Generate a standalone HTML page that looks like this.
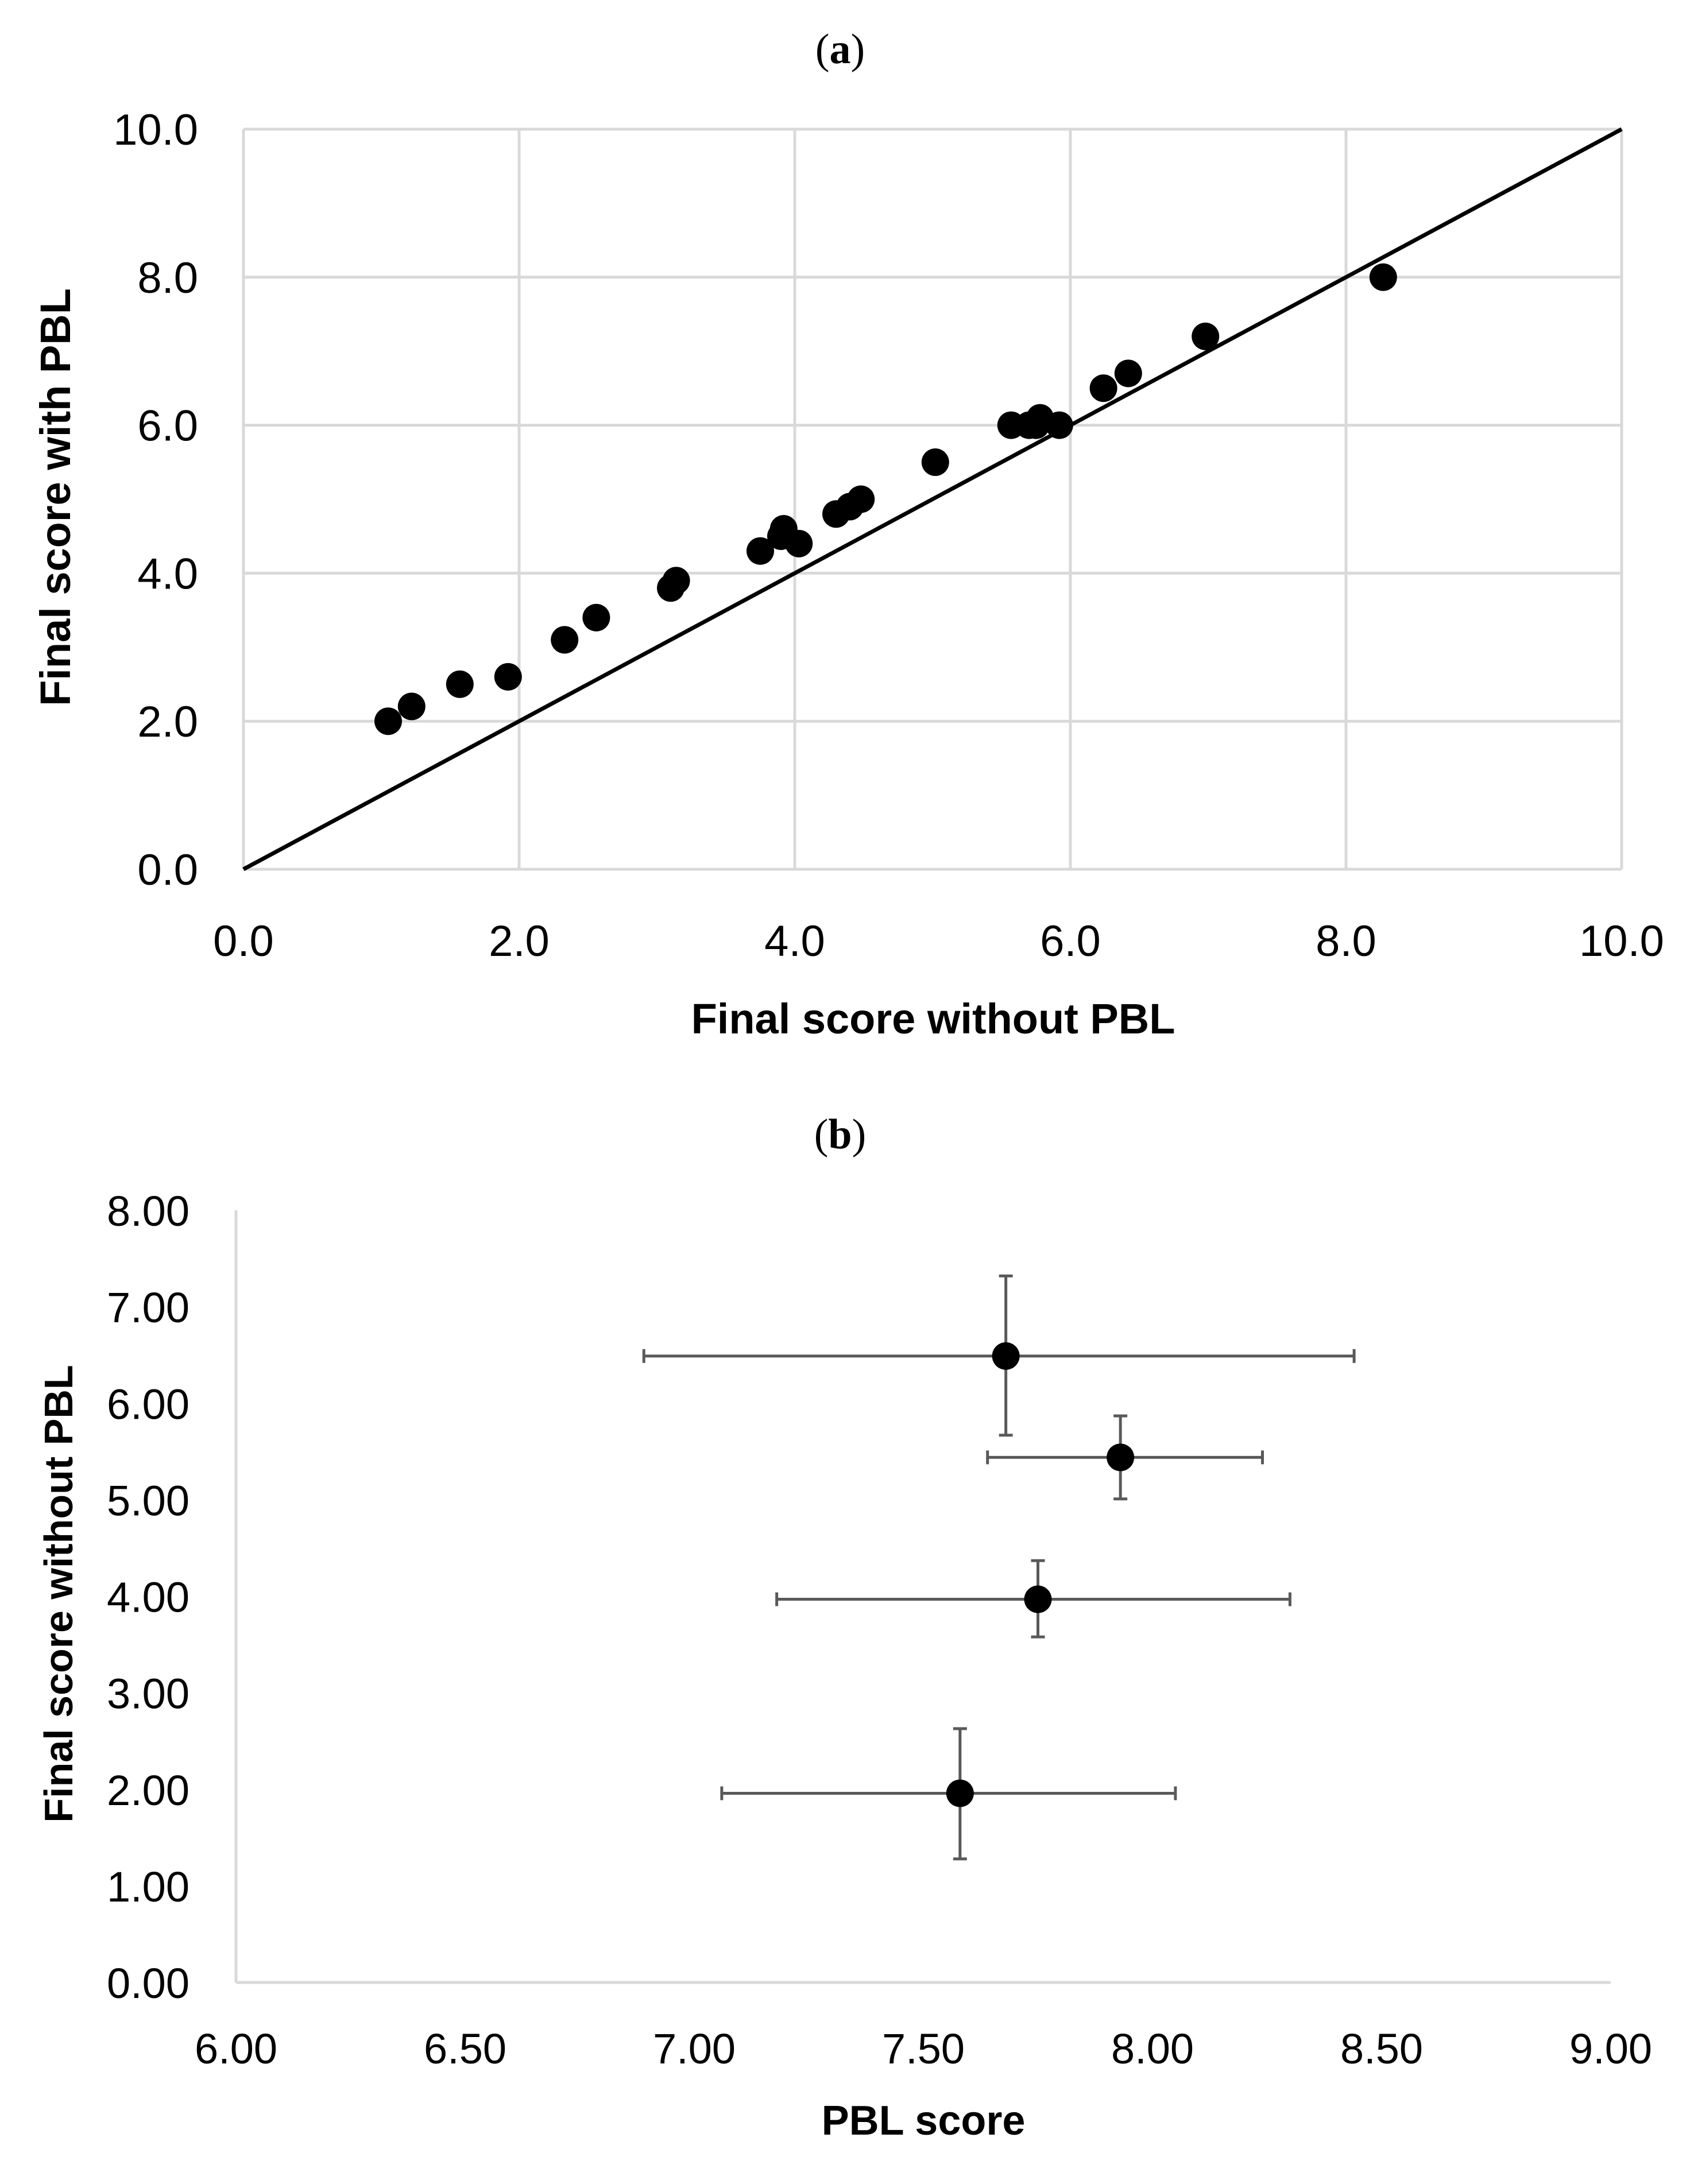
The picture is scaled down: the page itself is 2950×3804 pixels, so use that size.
<!DOCTYPE html>
<html><head><meta charset="utf-8"><style>
html,body{margin:0;padding:0;background:#fff;}
svg{display:block;}
text{font-family:"Liberation Sans",sans-serif;fill:#000;}
</style></head><body>
<svg id="fig" width="2950" height="3804" viewBox="0 0 2950 3804" xmlns="http://www.w3.org/2000/svg">
<g id="ga"></g>
<g id="gb"></g>
</svg>
<script>
// Chart (a) data
const aX = [1.05,1.22,1.57,1.92,2.33,2.56,3.10,3.14,3.75,3.92,3.90,4.03,4.30,4.40,4.48,5.02,5.57,5.70,5.78,5.75,5.92,6.24,6.42,6.98,8.27];
const aY = [2.0,2.2,2.5,2.6,3.1,3.4,3.8,3.9,4.3,4.6,4.5,4.4,4.8,4.9,5.0,5.5,6.0,6.0,6.1,6.0,6.0,6.5,6.7,7.2,8.0];
const aTicks = [0,2,4,6,8,10];
// Chart (b) data
const bX = [7.68,7.93,7.75,7.58];
const bY = [6.49,5.44,3.97,1.96];
const bXlo = [6.89,7.64,7.18,7.06];
const bXhi = [8.44,8.24,8.30,8.05];
const bYlo = [5.67,5.01,3.58,1.28];
const bYhi = [7.32,5.87,4.37,2.63];
const bXTicks = [6,6.5,7,7.5,8,8.5,9];
const bYTicks = [0,1,2,3,4,5,6,7,8];

const NS="http://www.w3.org/2000/svg";
function mk(parent,tag,attrs,txt){const e=document.createElementNS(NS,tag);for(const k in attrs)e.setAttribute(k,attrs[k]);if(txt!==undefined)e.textContent=txt;parent.appendChild(e);return e;}

// ---- Chart A ----
const ga=document.getElementById('ga');
const aL=424,aR=2824,aT=225,aB=1514;
const ax=v=>aL+(v-0)/10*(aR-aL);
const ay=v=>aB-(v-0)/10*(aB-aT);
let t=mk(ga,'text',{x:1463,y:110,'text-anchor':'middle','font-size':74,style:'font-family:"Liberation Serif",serif'});


const tb=document.createElementNS(NS,'tspan');tb.textContent='(';t.appendChild(tb);
const tb2=document.createElementNS(NS,'tspan');tb2.setAttribute('font-weight','bold');tb2.textContent='a';t.appendChild(tb2);
const tb3=document.createElementNS(NS,'tspan');tb3.textContent=')';t.appendChild(tb3);
aTicks.forEach(v=>{
  let g=mk(ga,'line',{x1:ax(v),x2:ax(v),y1:aT,y2:aB,stroke:'#d9d9d9','stroke-width':5});
  
  
  let h=mk(ga,'line',{x1:aL,x2:aR,y1:ay(v),y2:ay(v),stroke:'#d9d9d9','stroke-width':5});
  
  
  let xl=mk(ga,'text',{x:ax(v),y:1665,'text-anchor':'middle','font-size':76},v.toFixed(1));
  
  
  let yl=mk(ga,'text',{x:345,y:ay(v)+27,'text-anchor':'end','font-size':76},v.toFixed(1));
  
  
});
let diag=mk(ga,'line',{x1:ax(0),y1:ay(0),x2:ax(10),y2:ay(10),stroke:'#000','stroke-width':7});


aX.forEach((v,i)=>{
  let c=mk(ga,'circle',{cx:ax(v),cy:ay(aY[i]),r:24,fill:'#000'});
  
  
});
let axt=mk(ga,'text',{x:1625,y:1800,'text-anchor':'middle','font-size':74,'font-weight':'bold'},'Final score without PBL');


let ayt=mk(ga,'text',{x:0,y:0,'text-anchor':'middle','font-size':74,'font-weight':'bold',transform:'translate(122,866) rotate(-90)'},'Final score with PBL');



// ---- Chart B ----
const gb=document.getElementById('gb');
const bL=411,bR=2805,bT=2108,bB=3453;
const bx=v=>bL+(v-6)/3*(bR-bL);
const by=v=>bB-v/8*(bB-bT);
let tt=mk(gb,'text',{x:1463,y:2000,'text-anchor':'middle','font-size':74,style:'font-family:"Liberation Serif",serif'});


const s1=document.createElementNS(NS,'tspan');s1.textContent='(';tt.appendChild(s1);
const s2=document.createElementNS(NS,'tspan');s2.setAttribute('font-weight','bold');s2.textContent='b';tt.appendChild(s2);
const s3=document.createElementNS(NS,'tspan');s3.textContent=')';tt.appendChild(s3);
let yaxis=mk(gb,'line',{x1:bL,x2:bL,y1:bT,y2:bB,stroke:'#d9d9d9','stroke-width':5});


let xaxis=mk(gb,'line',{x1:bL,x2:bR,y1:bB,y2:bB,stroke:'#d9d9d9','stroke-width':5});


bXTicks.forEach(v=>{
  let l=mk(gb,'text',{x:bx(v),y:3594,'text-anchor':'middle','font-size':74},v.toFixed(2));
  
  
});
bYTicks.forEach(v=>{
  let l=mk(gb,'text',{x:330,y:by(v)+27,'text-anchor':'end','font-size':74},v.toFixed(2));
  
  
});
const ec='#595959',cap=12;
bX.forEach((v,i)=>{
  const cx=bx(v),cy=by(bY[i]);
  let hx=mk(gb,'line',{x1:bx(bXlo[i]),x2:bx(bXhi[i]),y1:cy,y2:cy,stroke:ec,'stroke-width':5});
  
  
  [bXlo[i],bXhi[i]].forEach(e=>{
    let c=mk(gb,'line',{x1:bx(e),x2:bx(e),y1:cy-cap,y2:cy+cap,stroke:ec,'stroke-width':5});
    
    
  });
  let vy=mk(gb,'line',{x1:cx,x2:cx,y1:by(bYlo[i]),y2:by(bYhi[i]),stroke:ec,'stroke-width':5});
  
  
  [bYlo[i],bYhi[i]].forEach(e=>{
    let c=mk(gb,'line',{x1:cx-cap,x2:cx+cap,y1:by(e),y2:by(e),stroke:ec,'stroke-width':5});
    
    
  });
  let p=mk(gb,'circle',{cx:cx,cy:cy,r:24,fill:'#000'});
  
  
});
let bxt=mk(gb,'text',{x:1608,y:3718,'text-anchor':'middle','font-size':72,'font-weight':'bold'},'PBL score');


let byt=mk(gb,'text',{x:0,y:0,'text-anchor':'middle','font-size':70,'font-weight':'bold',transform:'translate(126,2776) rotate(-90)'},'Final score without PBL');


</script>
</body></html>
